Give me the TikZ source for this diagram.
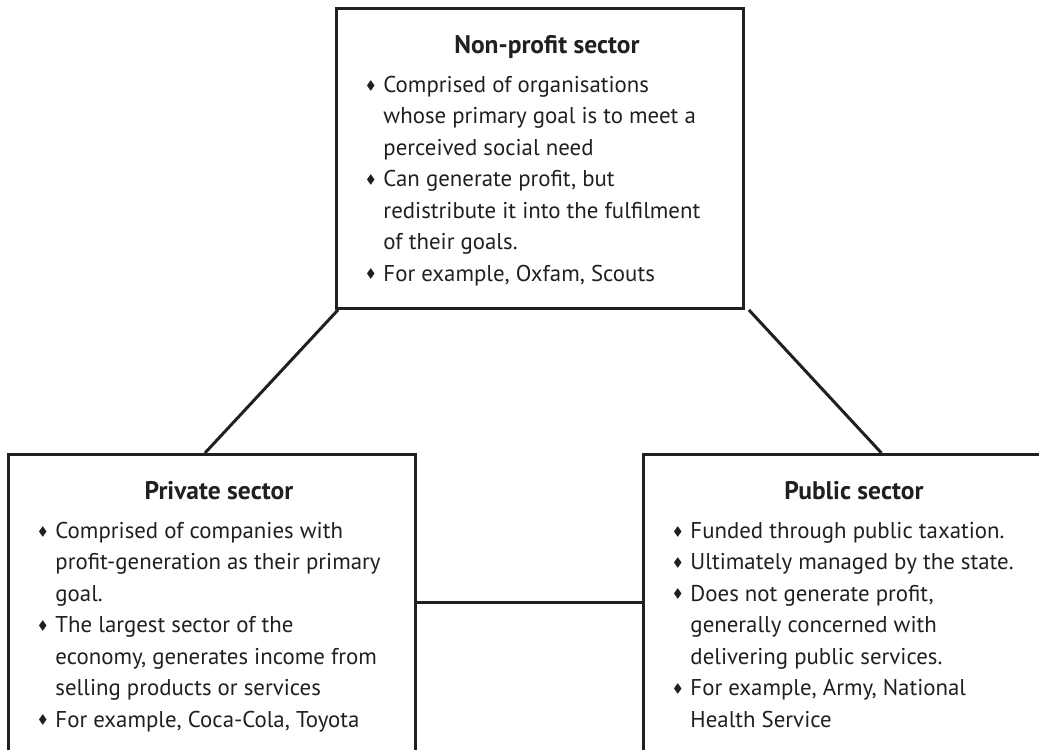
\documentclass[tikz,border=0pt]{standalone}
\usepackage{amssymb}
\usepackage{fontspec}
\setmainfont{PT Sans}
\usetikzlibrary{calc}

\definecolor{ink}{HTML}{231F20}
\setlength{\parskip}{0pt}
\newcommand{\diamondmark}{\raisebox{0.3ex}{\scriptsize$\blacklozenge$}}
\newenvironment{sectorlist}{\begin{list}{\diamondmark}{%
  \setlength{\leftmargin}{0.94cm}\setlength{\labelwidth}{0.5cm}%
  \setlength{\labelsep}{0.16cm}\setlength{\itemsep}{0pt}%
  \setlength{\parsep}{0pt}\setlength{\topsep}{0.15cm}%
  \setlength{\partopsep}{0pt}\raggedright}}{\end{list}}
\newcommand{\sectortitle}[1]{{\centering\hspace*{0.28cm}\fontsize{14.5}{17.9}\selectfont\bfseries\rule{0pt}{0.9cm}#1\par}}

\begin{document}
\begin{tikzpicture}[x=0.02cm, y=-0.02cm, color=ink, text=ink,
  sector/.style={draw=ink, line width=1.7pt, inner sep=0pt, anchor=north west,
    font=\fontsize{13}{17.9}\selectfont},
  link/.style={draw=ink, line width=1.7pt}]
\useasboundingbox (0,0) rectangle (1039,750);
\clip (0,0) rectangle (1039,750);

% the three sectors
\node[sector] (nonprofit) at (335,7) {\parbox[t][6cm][t]{8.14cm}{%
  \sectortitle{Non-profit sector}
  \begin{sectorlist}
  \item Comprised of organisations\\ whose primary goal is to meet a\\ perceived social need
  \item Can generate profit, but\\ redistribute it into the fulfilment\\ of their goals.
  \item For example, Oxfam, Scouts
  \end{sectorlist}}};

\node[sector] (private) at (7,453) {\parbox[t][8cm][t]{8.14cm}{%
  \sectortitle{Private sector}
  \begin{sectorlist}
  \item Comprised of companies with\\ profit-generation as their primary\\ goal.
  \item The largest sector of the\\ economy, generates income from\\ selling products or services
  \item For example, Coca-Cola, Toyota
  \end{sectorlist}}};

\node[sector] (public) at (642,453) {\parbox[t][8cm][t]{8.14cm}{%
  \sectortitle{Public sector}
  \begin{sectorlist}
  \item Funded through public taxation.
  \item Ultimately managed by the state.
  \item Does not generate profit,\\ generally concerned with\\ delivering public services.
  \item For example, Army, National\\ Health Service
  \end{sectorlist}}};

% links
\draw[link] ([xshift=0.06cm]nonprofit.south west) -- ([xshift=-0.14cm]private.north);
\draw[link] ([xshift=0.08cm]nonprofit.south east) -- ([xshift=0.69cm]public.north);
\draw[link] ([yshift=-3cm]private.north east) -- ([yshift=-3cm]public.north west);
\end{tikzpicture}
\end{document}
